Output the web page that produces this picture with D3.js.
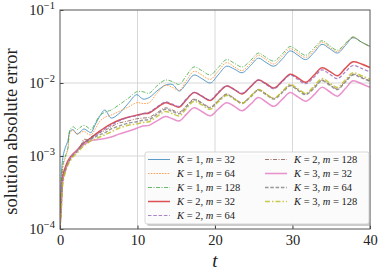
<!DOCTYPE html>
<html lang="en">
<head>
    <meta charset="utf-8">
    <title>solution absolute error</title>
    <script type="text/javascript" src="https://d3js.org/d3.v7.min.js"></script>
    <style type="text/css">
        body { margin: 0; background: #fff; }
        text { font-family: "Liberation Serif", "DejaVu Serif", serif; fill: #222; }
    </style>
</head>
<body>
    <script type="text/javascript">

        const width = 383;
        const height = 273;
        const margin = { top: 10, right: 13, bottom: 44, left: 60 };

        // time samples (shared by every run)
        const t = [0, 0.15, 0.4, 0.7, 1.0, 1.3, 1.7, 2.2, 2.7, 3.1,
                   3.6, 4.0, 4.5, 5.1, 5.8, 6.6, 7.6, 8.8, 9.9, 10.7,
                   11.5, 12.5, 13.6, 14.5, 15.4, 16.3, 17.3, 18.3, 19.4, 20.4,
                   21.5, 22.5, 23.5, 24.6, 25.6, 26.6, 27.6, 28.7, 29.7, 30.7,
                   31.7, 32.8, 33.8, 34.8, 35.8, 36.8, 37.8, 38.9, 40];

        // log10 of the absolute error
        const k1m32 = [-4, -3.3, -3.0, -2.88, -2.80, -2.66, -2.64, -2.70, -2.66, -2.63,
                       -2.66, -2.68, -2.58, -2.46, -2.37, -2.48, -2.42, -2.28, -2.16, -2.22,
                       -2.20, -2.11, -2.03, -2.02, -2.11, -2.01, -1.89, -1.94, -2.00, -1.89,
                       -1.77, -1.81, -1.86, -1.76, -1.66, -1.72, -1.77, -1.67, -1.56, -1.62,
                       -1.68, -1.58, -1.47, -1.53, -1.59, -1.49, -1.38, -1.44, -1.50];
        const k1m64 = [-4, -3.5, -3.15, -3.02, -2.92, -2.68, -2.65, -2.70, -2.68, -2.66,
                       -2.70, -2.71, -2.64, -2.53, -2.47, -2.44, -2.39, -2.33, -2.27, -2.28,
                       -2.27, -2.14, -2.03, -2.06, -2.10, -1.97, -1.84, -1.89, -1.95, -1.84,
                       -1.72, -1.78, -1.83, -1.73, -1.62, -1.68, -1.74, -1.63, -1.53, -1.59,
                       -1.65, -1.55, -1.44, -1.51, -1.57, -1.47, -1.37, -1.44, -1.50];
        const k1m128 = [-4, -3.45, -3.1, -3.0, -2.9, -2.64, -2.60, -2.64, -2.60, -2.58,
                        -2.61, -2.64, -2.56, -2.45, -2.40, -2.37, -2.30, -2.21, -2.12, -2.12,
                        -2.14, -2.04, -1.96, -1.98, -2.02, -1.90, -1.78, -1.83, -1.89, -1.79,
                        -1.68, -1.73, -1.78, -1.69, -1.59, -1.65, -1.70, -1.60, -1.50, -1.56,
                        -1.62, -1.52, -1.42, -1.49, -1.55, -1.46, -1.37, -1.44, -1.50];
        const k2m32 = [-4, -3.6, -3.25, -3.15, -3.07, -3.02, -2.97, -2.92, -2.86, -2.82,
                       -2.78, -2.75, -2.71, -2.66, -2.61, -2.56, -2.51, -2.47, -2.44, -2.42,
                       -2.41, -2.34, -2.27, -2.30, -2.33, -2.23, -2.13, -2.18, -2.24, -2.14,
                       -2.04, -2.09, -2.15, -2.05, -1.96, -2.01, -2.07, -1.97, -1.88, -1.93,
                       -1.99, -1.89, -1.79, -1.84, -1.90, -1.80, -1.71, -1.74, -1.79];
        const k2m64 = [-4, -3.65, -3.3, -3.18, -3.1, -3.04, -2.98, -2.92, -2.87, -2.83,
                       -2.79, -2.76, -2.73, -2.68, -2.63, -2.58, -2.52, -2.47, -2.45, -2.42,
                       -2.40, -2.33, -2.26, -2.29, -2.32, -2.22, -2.13, -2.18, -2.23, -2.13,
                       -2.04, -2.09, -2.14, -2.05, -1.96, -2.02, -2.08, -1.98, -1.89, -1.95,
                       -2.01, -1.92, -1.82, -1.88, -1.94, -1.85, -1.76, -1.80, -1.85];
        const k2m128 = [-4, -3.7, -3.3, -3.18, -3.09, -3.03, -2.97, -2.92, -2.85, -2.77,
                        -2.78, -2.74, -2.71, -2.68, -2.65, -2.60, -2.55, -2.52, -2.49, -2.48,
                        -2.47, -2.41, -2.34, -2.37, -2.40, -2.31, -2.22, -2.27, -2.33, -2.24,
                        -2.15, -2.21, -2.27, -2.18, -2.09, -2.15, -2.21, -2.12, -2.03, -2.09,
                        -2.15, -2.06, -1.96, -2.02, -2.08, -1.98, -1.88, -1.92, -1.97];
        const k3m32 = [-4, -3.75, -3.3, -3.2, -3.1, -3.04, -2.98, -2.93, -2.88, -2.84,
                       -2.81, -2.79, -2.78, -2.77, -2.76, -2.74, -2.70, -2.66, -2.62, -2.59,
                       -2.58, -2.52, -2.46, -2.49, -2.52, -2.43, -2.34, -2.39, -2.45, -2.36,
                       -2.27, -2.32, -2.38, -2.29, -2.20, -2.26, -2.32, -2.22, -2.13, -2.19,
                       -2.25, -2.16, -2.06, -2.12, -2.18, -2.08, -1.97, -2.01, -2.06];
        const k3m64 = [-4, -3.7, -3.3, -3.2, -3.11, -3.05, -2.99, -2.94, -2.87, -2.80,
                       -2.80, -2.77, -2.74, -2.71, -2.68, -2.63, -2.59, -2.55, -2.53, -2.51,
                       -2.50, -2.43, -2.36, -2.39, -2.42, -2.33, -2.23, -2.28, -2.34, -2.25,
                       -2.16, -2.22, -2.28, -2.19, -2.10, -2.16, -2.22, -2.13, -2.04, -2.10,
                       -2.16, -2.07, -1.97, -2.03, -2.09, -1.99, -1.89, -1.93, -1.98];
        const k3m128 = [-4, -3.75, -3.35, -3.22, -3.13, -3.07, -3.01, -2.96, -2.90, -2.86,
                        -2.82, -2.79, -2.77, -2.74, -2.71, -2.67, -2.62, -2.58, -2.56, -2.54,
                        -2.53, -2.46, -2.39, -2.42, -2.45, -2.35, -2.25, -2.30, -2.36, -2.26,
                        -2.17, -2.22, -2.28, -2.18, -2.09, -2.15, -2.21, -2.11, -2.02, -2.08,
                        -2.14, -2.04, -1.94, -2.00, -2.06, -1.96, -1.86, -1.90, -1.95];

        const kLabels = [1, 1, 1, 2, 2, 2, 3, 3, 3];
        const mLabels = [32, 64, 128, 32, 64, 128, 32, 64, 128];
        const xTicks = [0, 10, 20, 30, 40];
        const yTicks = [1e-4, 1e-3, 1e-2, 1e-1];

        const runs = [
            { vals: k1m32, color: "#1f77b4", w: 0.9, dash: null },
            { vals: k1m64, color: "#ff7f0e", w: 0.9, dash: "1.6,1.2" },
            { vals: k1m128, color: "#2ca02c", w: 0.9, dash: "4,1.5,1,1.5" },
            { vals: k2m32, color: "#d62728", w: 1.5, dash: null },
            { vals: k2m64, color: "#9467bd", w: 1.2, dash: "3.5,1.8" },
            { vals: k2m128, color: "#8c564b", w: 1.0, dash: "4,1.5,1,1.5" },
            { vals: k3m32, color: "#e377c2", w: 1.5, dash: null },
            { vals: k3m64, color: "#7f7f7f", w: 1.4, dash: "3.5,1.8" },
            { vals: k3m128, color: "#bcbd22", w: 1.5, dash: "5,2,1.5,2" }
        ];

        const svg = d3.select("body")
                    .append("svg")
                    .attr("width", width)
                    .attr("height", height);

        // Scales
        const xScale = d3.scaleLinear()
                        .domain([0, 40])
                        .range([margin.left, width - margin.right]);

        const yScale = d3.scaleLog()
                        .domain([1e-4, 1e-1])
                        .range([height - margin.bottom, margin.top]);

        // Grid
        svg.append("g")
            .selectAll("line")
            .data(xTicks.slice(1, -1))
            .enter()
            .append("line")
            .attr("x1", d => xScale(d)).attr("x2", d => xScale(d))
            .attr("y1", margin.top).attr("y2", height - margin.bottom)
            .attr("stroke", "#d4d4d4").attr("stroke-width", 0.9);

        svg.append("g")
            .selectAll("line")
            .data(yTicks.slice(1, -1))
            .enter()
            .append("line")
            .attr("x1", margin.left).attr("x2", width - margin.right)
            .attr("y1", d => yScale(d)).attr("y2", d => yScale(d))
            .attr("stroke", "#d4d4d4").attr("stroke-width", 0.9);

        // Lines
        const line = d3.line()
                    .x((d, i) => xScale(t[i]))
                    .y(d => yScale(Math.pow(10, d)))
                    .curve(d3.curveCatmullRom.alpha(0.5));

        svg.append("defs").append("clipPath").attr("id", "plotclip")
            .append("rect")
            .attr("x", margin.left).attr("y", margin.top)
            .attr("width", width - margin.left - margin.right)
            .attr("height", height - margin.top - margin.bottom);

        svg.append("g")
            .attr("clip-path", "url(#plotclip)")
            .selectAll("path")
            .data(runs)
            .enter()
            .append("path")
            .attr("d", d => line(d.vals))
            .attr("fill", "none")
            .attr("stroke", d => d.color)
            .attr("stroke-width", d => d.w)
            .attr("stroke-dasharray", d => d.dash)
            .attr("stroke-opacity", 0.8);

        // Axes
        const xAxis = d3.axisBottom(xScale)
                        .tickValues(xTicks)
                        .tickSizeInner(-3.5)
                        .tickSizeOuter(0)
                        .tickPadding(6)
                        .tickFormat(d3.format("d"));

        const yAxis = d3.axisLeft(yScale)
                        .ticks(3)
                        .tickSizeInner(-2)
                        .tickSizeOuter(0)
                        .tickFormat("");

        svg.append("g")
            .attr("transform", `translate(0,${height - margin.bottom})`)
            .call(xAxis)
            .call(g => g.select(".domain").remove())
            .call(g => g.selectAll("line").attr("stroke", "#444"))
            .call(g => g.selectAll("text")
                .attr("font-family", "Liberation Serif")
                .attr("font-size", 14.5)
                .attr("fill", "#222"));

        const yg = svg.append("g")
            .attr("transform", `translate(${margin.left},0)`)
            .call(yAxis)
            .call(g => g.select(".domain").remove())
            .call(g => g.selectAll("line").attr("stroke", "#444"));

        // major y ticks longer
        yg.selectAll(".tick")
            .filter(d => yTicks.includes(d))
            .select("line")
            .attr("x2", 3.5);

        // y tick labels 10^n
        const ylab = svg.append("g");
        yTicks.forEach(v => {
            const tx = ylab.append("text")
                .attr("x", margin.left - 5)
                .attr("y", yScale(v) + 5)
                .attr("text-anchor", "end")
                .attr("font-size", 14.5);
            tx.append("tspan").text("10");
            tx.append("tspan")
                .attr("dy", -6)
                .attr("font-size", 10.5)
                .text("\u2212" + Math.round(-Math.log10(v)));
        });

        // frame
        svg.append("rect")
            .attr("x", margin.left).attr("y", margin.top)
            .attr("width", width - margin.left - margin.right)
            .attr("height", height - margin.top - margin.bottom)
            .attr("fill", "none")
            .attr("stroke", "#555")
            .attr("stroke-width", 1);

        // axis titles
        svg.append("text")
            .attr("x", (margin.left + width - margin.right) / 2)
            .attr("y", height - 6)
            .attr("text-anchor", "middle")
            .attr("font-size", 19)
            .attr("font-style", "italic")
            .text("t");

        svg.append("text")
            .attr("transform", "rotate(-90)")
            .attr("x", -(margin.top + height - margin.bottom) / 2 - 12)
            .attr("y", 17)
            .attr("text-anchor", "middle")
            .attr("font-size", 18.5)
            .text("solution absolute error");

        // Legend
        const lg = svg.append("g").attr("transform", "translate(145,152)");
        const lw = 224, lh = 72;
        lg.append("rect")
            .attr("x", 2).attr("y", 2)
            .attr("width", lw).attr("height", lh)
            .attr("rx", 2)
            .attr("fill", "#999").attr("fill-opacity", 0.5);
        lg.append("rect")
            .attr("width", lw).attr("height", lh)
            .attr("rx", 2)
            .attr("fill", "#fff").attr("fill-opacity", 0.92)
            .attr("stroke", "#ccc").attr("stroke-width", 0.8);

        const items = lg.selectAll("g.item")
            .data(runs)
            .enter()
            .append("g")
            .attr("class", "item")
            .attr("transform", (d, i) => {
                const col = i < 5 ? 0 : 1;
                const row = i < 5 ? i : i - 5;
                return `translate(${3 + col * 117},${7.5 + row * 14})`;
            });

        items.append("line")
            .attr("x1", 0).attr("x2", 22)
            .attr("stroke", d => d.color)
            .attr("stroke-width", d => d.w)
            .attr("stroke-dasharray", d => d.dash)
            .attr("stroke-opacity", 0.8);

        items.append("text")
            .attr("x", 29)
            .attr("y", 3.8)
            .attr("font-size", 10.5)
            .each(function(d, i) {
                const tx = d3.select(this);
                tx.append("tspan").attr("font-style", "italic").text("K");
                tx.append("tspan").text(" = " + kLabels[i] + ", ");
                tx.append("tspan").attr("font-style", "italic").text("m");
                tx.append("tspan").text(" = " + mLabels[i]);
            });

    </script>
</body>
</html>
